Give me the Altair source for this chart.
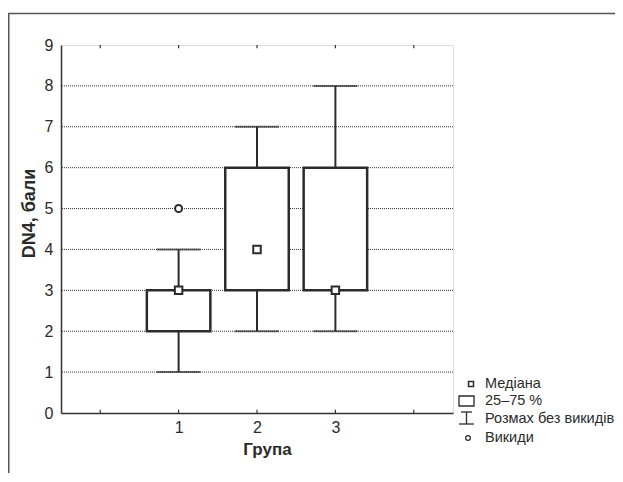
import altair as alt
import pandas as pd

# ---- data ----
groups = [1, 2, 3]
whisker_low = [1, 2, 2]
q1 = [2, 3, 3]
median = [3, 4, 3]
q3 = [3, 6, 6]
whisker_high = [4, 7, 8]
outlier_group = [1]
outlier_value = [5]
y_ticks = [0, 1, 2, 3, 4, 5, 6, 7, 8, 9]
grid_values = [1, 2, 3, 4, 5, 6, 7, 8]
x_tick_positions = [0, 1, 2, 3, 4]
x_tick_labels = ["", "1", "2", "3", ""]
legend_labels = ["Медіана", "25–75 %", "Розмах без викидів", "Викиди"]

W, H = 392, 368
FONT = "Liberation Sans"
INK = "#2b2b2b"

box = pd.DataFrame({"g": groups, "lo": whisker_low, "q1": q1, "med": median,
                    "q3": q3, "hi": whisker_high})
out = pd.DataFrame({"g": outlier_group, "v": outlier_value})
grid = pd.DataFrame({"y": grid_values})
ticks = pd.DataFrame({"x": x_tick_positions})

xs = alt.Scale(domain=[-0.5, 4.5], nice=False, zero=False)
ys = alt.Scale(domain=[0, 9], nice=False)

label_map = "{" + ",".join(f"'{p}':'{l}'" for p, l in zip(x_tick_positions, x_tick_labels)) + "}"

x_axis = alt.Axis(values=x_tick_positions, labelExpr=f"{label_map}[datum.value]",
                  title="Група", ticks=False, grid=False, labelPadding=6,
                  labelFontSize=16, labelFont=FONT, labelColor=INK,
                  titleFont=FONT, titleFontSize=17, titleFontWeight="bold",
                  titleColor=INK, titleX=206, titleY=36, titleBaseline="middle",
                  domainColor="#333", domainWidth=1.5)
y_axis = alt.Axis(values=y_ticks, title="DN4, бали", ticks=False, grid=False,
                  labelPadding=8, labelFontSize=16, labelFont=FONT, labelColor=INK,
                  titleFont=FONT, titleFontSize=18, titleFontWeight="bold",
                  titleColor=INK, titleX=-32, titleY=168, titleBaseline="middle",
                  titleAlign="center", domainColor="#333", domainWidth=1.5)

gridlines = alt.Chart(grid).mark_rule(color="#333", strokeDash=[1, 1], strokeWidth=1).encode(
    y=alt.Y("y:Q", scale=ys, axis=y_axis))

bottom_ticks = alt.Chart(ticks).transform_calculate(y0="0", y1="0.08").mark_rule(
    color="#333", strokeWidth=1.2).encode(
    x=alt.X("x:Q", scale=xs, axis=x_axis), y=alt.Y("y0:Q", scale=ys), y2="y1:Q")
top_ticks = alt.Chart(ticks).transform_calculate(y0="9", y1="8.92").mark_rule(
    color="#333", strokeWidth=1.2).encode(
    x=alt.X("x:Q", scale=xs), y=alt.Y("y0:Q", scale=ys), y2="y1:Q")

base = alt.Chart(box)
whisk = base.mark_rule(color=INK, strokeWidth=2).encode(
    x=alt.X("g:Q", scale=xs), y=alt.Y("lo:Q", scale=ys), y2="hi:Q")
caps_lo = base.mark_tick(color=INK, thickness=2, size=44, orient="horizontal").encode(
    x=alt.X("g:Q", scale=xs), y=alt.Y("lo:Q", scale=ys))
caps_hi = base.mark_tick(color=INK, thickness=2, size=44, orient="horizontal").encode(
    x=alt.X("g:Q", scale=xs), y=alt.Y("hi:Q", scale=ys))
rects = base.transform_calculate(xl="datum.g - 0.405", xr="datum.g + 0.405").mark_rect(
    fill="white", stroke=INK, strokeWidth=2.5).encode(
    x=alt.X("xl:Q", scale=xs), x2="xr:Q", y=alt.Y("q1:Q", scale=ys), y2="q3:Q")
meds = base.mark_point(shape="square", size=56, filled=True, fill="white",
                       stroke=INK, strokeWidth=2, opacity=1).encode(
    x=alt.X("g:Q", scale=xs), y=alt.Y("med:Q", scale=ys))
outs = alt.Chart(out).mark_point(shape="circle", size=50, filled=True, fill="white",
                                 stroke=INK, strokeWidth=2, opacity=1).encode(
    x=alt.X("g:Q", scale=xs), y=alt.Y("v:Q", scale=ys))

# ---- legend (drawn by hand, outside the plot area) ----
one = pd.DataFrame({"a": [0]})
leg = alt.Chart(one)
leg_sq = leg.mark_point(shape="square", size=25, filled=True, fill="white", stroke=INK,
                        strokeWidth=1.5, opacity=1).encode(x=alt.value(410), y=alt.value(339))
leg_rect = leg.mark_rect(fill="white", stroke=INK, strokeWidth=1.3).encode(
    x=alt.value(398), x2=alt.value(413), y=alt.value(351), y2=alt.value(361))
leg_w1 = leg.mark_rule(color=INK, strokeWidth=1.3).encode(
    x=alt.value(400), x2=alt.value(411), y=alt.value(367))
leg_w2 = leg.mark_rule(color=INK, strokeWidth=1.3).encode(
    x=alt.value(405.5), y=alt.value(367), y2=alt.value(379))
leg_w3 = leg.mark_rule(color=INK, strokeWidth=1.3).encode(
    x=alt.value(398), x2=alt.value(413), y=alt.value(379))
leg_c = leg.mark_point(shape="circle", size=22, filled=True, fill="white", stroke=INK,
                       strokeWidth=1.3, opacity=1).encode(x=alt.value(407), y=alt.value(393))
leg_texts = []
for lab, yy in zip(legend_labels, [339, 356, 374, 393]):
    leg_texts.append(alt.Chart(pd.DataFrame({"t": [lab]})).mark_text(
        align="left", baseline="middle", font=FONT, fontSize=14.5, color=INK).encode(
        x=alt.value(424), y=alt.value(yy), text="t:N"))

# ---- outer frame ----
frame_top = leg.mark_rule(color="#555", strokeWidth=1.5).encode(
    x=alt.value(-53), x2=alt.value(560), y=alt.value(-31.5))
frame_left = leg.mark_rule(color="#555", strokeWidth=1.5).encode(
    x=alt.value(-52.25), y=alt.value(-32), y2=alt.value(440))

chart = alt.layer(
    gridlines, bottom_ticks, top_ticks, whisk, caps_lo, caps_hi, rects, meds, outs,
    leg_sq, leg_rect, leg_w1, leg_w2, leg_w3, leg_c, *leg_texts, frame_top, frame_left
).properties(
    width=W, height=H,
    autosize=alt.AutoSizeParams(type="none"),
    padding={"left": 53, "top": 37, "right": 162, "bottom": 60},
).configure_view(stroke="#555", strokeWidth=1.5).configure(background="white")

chart.save("out.html", embed_options={"renderer": "svg", "actions": False})
